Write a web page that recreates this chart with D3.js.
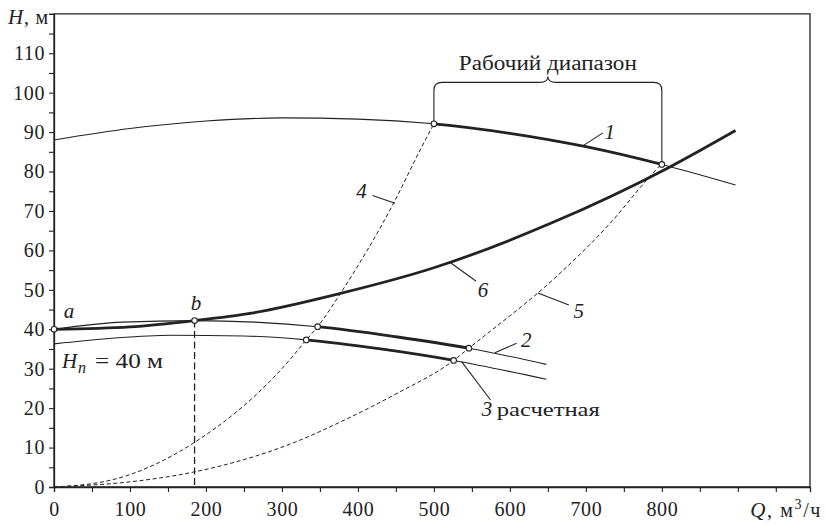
<!DOCTYPE html>
<html><head><meta charset="utf-8">
<script src="https://cdn.jsdelivr.net/npm/d3@7"></script>
<style>
body{margin:0;background:#fff}
svg text{font-family:"Liberation Serif","Tinos","Times New Roman",serif;fill:#222}
</style>
</head><body>
<svg id="c" width="826" height="526"></svg>
<script>
// ---- tick labels ----
const qTicks = [0,100,200,300,400,500,600,700,800];
const qAllTicks = [0,50,100,150,200,250,300,350,400,450,500,550,600,650,700,750,800,850,900,950];
const hTicks = [0,10,20,30,40,50,60,70,80,90,100,110];
const hAllTicks = [0,5,10,15,20,25,30,35,40,45,50,55,60,65,70,75,80,85,90,95,100,105,110,115,120];

// ---- curve 1: pump Q-H at nominal speed ----
const c1Q = [0,100,200,300,400,500,600,700,800,897];
const c1H = [88,90.9,92.8,93.6,93.3,92.1,89.7,86.3,81.8,76.6];
// ---- curve 2 ----
const c2Q = [0,90,185,265,347,450,546,648];
const c2H = [40,41.8,42.2,41.8,40.65,38.1,35.2,31.1];
// ---- curve 3 (расчетная) ----
const c3Q = [0,80,153,250,332,430,526,648];
const c3H = [36.3,37.8,38.5,38.3,37.3,35.0,32.1,27.3];
// ---- curve 6: system characteristic ----
const c6Q = [0,100,185,260,377,500,653,810,897];
const c6H = [40,40.6,42.2,44.1,49.1,55.6,66.8,81.1,90.4];
// ---- curve 4: similarity parabola (dashed) ----
const c4Q = [0,76,184,310,332,347,377,447,482,500];
const c4H = [0,1.8,11.2,32.2,37.3,40.65,49.1,72,85.5,92.1];
// ---- curve 5: similarity parabola (dashed) ----
const c5Q = [0,113,184,324,376,450,526,546,666,732,784,798];
const c5H = [0,1.6,3.8,11.9,16.4,23.6,32.1,35.2,54.2,66.9,78.7,81.6];
// ---- marked points ----
const ptQ = [0,185,347,546,332,526,500,800];
const ptH = [40,42.2,40.65,35.2,37.3,32.1,92.1,81.8];
// ---- working range ----
const rangeQ = [500,800];
const rangeH = [92.1,81.8];
const bQ = 185, bH = 42.2;

const SERIF = '"Liberation Serif","Tinos","Times New Roman",serif';
const svg = d3.select("#c");
const x = d3.scaleLinear().domain([0,995]).range([54,810]);
const y = d3.scaleLinear().domain([0,120]).range([487,13.8]);
const ink = "#222";

const zip = (Q,H) => Q.map((q,i)=>[q,H[i]]);
const line = d3.line().x(d=>x(d[0])).y(d=>y(d[1])).curve(d3.curveMonotoneX);

// frame
svg.append("path")
  .attr("d",`M${x(0)},${y(0)}H${x(995)}V${y(120)}H${x(0)}Z`)
  .attr("fill","none").attr("stroke",ink).attr("stroke-width",1.3);

// axes
const xAx = svg.append("g").attr("transform",`translate(0,${y(0)})`)
  .call(d3.axisBottom(x).tickValues(qAllTicks).tickSize(5)
    .tickFormat(d=>qTicks.includes(d)?d:""));
const yAx = svg.append("g").attr("transform",`translate(${x(0)},0)`)
  .call(d3.axisLeft(y).tickValues(hAllTicks).tickSize(5)
    .tickFormat(d=>hTicks.includes(d)?d:""));
[xAx,yAx].forEach(g=>{
  g.attr("font-family",SERIF).attr("font-size",20);
  g.select(".domain").attr("stroke",ink).attr("stroke-width",1.3);
  g.selectAll(".tick line").attr("stroke",ink).attr("stroke-width",1.1);
  g.selectAll(".tick text").attr("fill",ink)
    .style("font-family",SERIF).style("font-size","20px").style("letter-spacing","0.6px");
});
xAx.selectAll(".tick text").attr("y",15);
yAx.selectAll(".tick text").attr("x",-9);

// axis titles
const yt = svg.append("text").attr("x",49).attr("y",24).attr("text-anchor","end")
  .style("font-size","20px").style("letter-spacing","0.8px");
yt.append("tspan").style("font-style","italic").style("font-size","21px").text("H");
yt.append("tspan").text(", м");
const xt = svg.append("text").attr("x",822).attr("y",517).attr("text-anchor","end")
  .style("font-size","20px").style("letter-spacing","1.6px");
xt.append("tspan").style("font-style","italic").style("font-size","21px").text("Q");
xt.append("tspan").text(", м");
xt.append("tspan").attr("dy",-8).style("font-size","14px").text("3");
xt.append("tspan").attr("dy",8).text("/ч");

// dashed curves
[[c4Q,c4H],[c5Q,c5H]].forEach(([Q,H])=>{
  svg.append("path").attr("d",line(zip(Q,H))).attr("fill","none")
    .attr("stroke",ink).attr("stroke-width",1).attr("stroke-dasharray","4,2.6");
});
// vertical dashed from b
svg.append("line").attr("x1",x(bQ)).attr("x2",x(bQ)).attr("y1",y(bH)).attr("y2",y(0))
  .attr("stroke",ink).attr("stroke-width",1.3).attr("stroke-dasharray","7,3.5");

// thin full curves
[[c1Q,c1H],[c2Q,c2H],[c3Q,c3H]].forEach(([Q,H])=>{
  svg.append("path").attr("d",line(zip(Q,H))).attr("fill","none")
    .attr("stroke",ink).attr("stroke-width",1.1);
});
// thick working segments (clipped copies of the same curves)
const defs = svg.append("defs");
function thick(Q,H,q0,q1,id){
  defs.append("clipPath").attr("id",id).append("rect")
    .attr("x",x(q0)).attr("width",x(q1)-x(q0)).attr("y",0).attr("height",526);
  svg.append("path").attr("d",line(zip(Q,H))).attr("fill","none")
    .attr("stroke",ink).attr("stroke-width",2.8).attr("clip-path",`url(#${id})`);
}
thick(c1Q,c1H,500,800,"k1");
thick(c2Q,c2H,347,546,"k2");
thick(c3Q,c3H,332,526,"k3");
svg.append("path").attr("d",line(zip(c6Q,c6H))).attr("fill","none")
  .attr("stroke",ink).attr("stroke-width",2.8);

// working range bracket
{
  const xl=x(rangeQ[0]), xr=x(rangeQ[1]), xm=(xl+xr)/2;
  const yb=y(102.6), yc=y(104.1), r=8;
  svg.append("path").attr("fill","none").attr("stroke",ink).attr("stroke-width",1.1)
    .attr("d",`M${xl},${y(rangeH[0])}V${yb+r}Q${xl},${yb} ${xl+r},${yb}H${xm-8}Q${xm},${yb} ${xm},${yc}`+
              `Q${xm},${yb} ${xm+8},${yb}H${xr-r}Q${xr},${yb} ${xr},${yb+r}V${y(rangeH[1])}`);
  svg.append("text").attr("x",xm-89).attr("y",y(105.8))
    .attr("textLength",178).attr("lengthAdjust","spacingAndGlyphs")
    .style("font-size","20px").text("Рабочий диапазон");
}

// points
svg.selectAll("circle.p").data(zip(ptQ,ptH)).join("circle")
  .attr("cx",d=>x(d[0])).attr("cy",d=>y(d[1])).attr("r",2.8)
  .attr("fill","#fff").attr("stroke",ink).attr("stroke-width",1.1);

// annotations: leader lines [from Q,H] -> [to Q,H], label
const leaders = [
  [[696,86.5],[722.4,89.8]],
  [[580.3,34.06],[608.8,36.44]],
  [[536.4,31.78],[574.6,22.06]],
  [[419.3,73.9],[448.7,71.95]],
  [[636.8,49.2],[677.6,46.16]],
  [[521,57],[555.3,52.24]]
];
leaders.forEach(([a,b])=>{
  svg.append("line").attr("x1",x(a[0])).attr("y1",y(a[1])).attr("x2",x(b[0])).attr("y2",y(b[1]))
    .attr("stroke",ink).attr("stroke-width",1.1);
});
const labels = [
  ["1",731.6,88.3],["2",621.7,35.5],["4",404.6,73.3],["5",690.8,42.9],["6",564.5,48.2],
  ["a",19.7,42.9],["b",186.8,44.9]
];
labels.forEach(([t,q,h])=>{
  svg.append("text").attr("x",x(q)).attr("y",y(h)).attr("text-anchor","middle")
    .style("font-style","italic").style("font-size","21px").text(t);
});
svg.append("text").attr("x",x(563)).attr("y",y(17.9))
  .style("font-style","italic").style("font-size","21px").text("3");
svg.append("text").attr("x",x(563)+15).attr("y",y(17.9))
  .attr("textLength",103).attr("lengthAdjust","spacingAndGlyphs")
  .style("font-size","19px").text("расчетная");

svg.append("text").attr("x",62).attr("y",368).style("font-style","italic").style("font-size","21px").text("H");
svg.append("text").attr("x",78).attr("y",373).style("font-style","italic").style("font-size","16px").text("n");
svg.append("text").attr("x",95).attr("y",368).attr("textLength",68).attr("lengthAdjust","spacingAndGlyphs")
  .style("font-size","20px").text("= 40 м");
</script>
</body></html>
